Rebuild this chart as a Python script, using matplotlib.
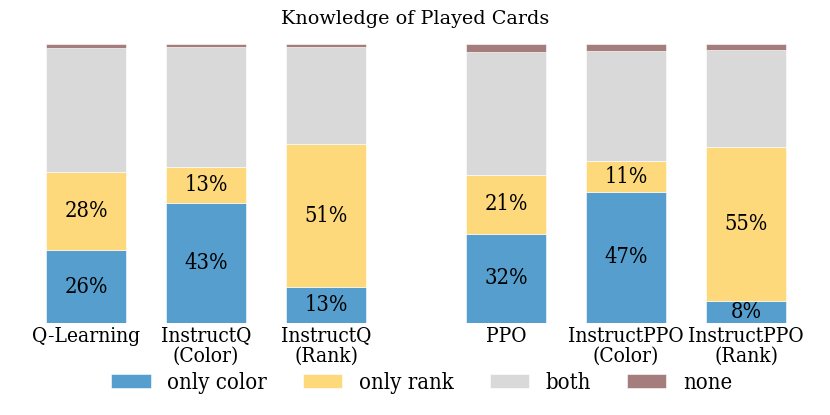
import matplotlib.pyplot as plt
import numpy as np

plt.rcParams['font.family'] = ['DejaVu Serif']

methods = ['Q-Learning', 'InstructQ\n(Color)', 'InstructQ\n(Rank)',
           'PPO', 'InstructPPO\n(Color)', 'InstructPPO\n(Rank)']
only_color = np.array([0.26, 0.43, 0.13, 0.32, 0.47, 0.08])
only_rank = np.array([0.28, 0.13, 0.51, 0.21, 0.11, 0.55])
none = np.array([0.013, 0.012, 0.012, 0.028, 0.025, 0.02])
both = 1 - only_color - only_rank - none

colors = ['#559ecd', '#fdd97c', '#d9d9d9', '#a57d7d']
xpos = np.array([0, 1, 2, 3.5, 4.5, 5.5])
width = 0.66

fig = plt.figure(figsize=(8.3, 4.15), dpi=100)
ax = fig.add_axes([26/830, 92/415, 780/830, 279/415])

bottom = np.zeros(len(methods))
for vals, col, lab in zip([only_color, only_rank, both, none], colors,
                          ['only color', 'only rank', 'both', 'none']):
    bars = ax.bar(xpos, vals, width, bottom=bottom, color=col, label=lab,
                  edgecolor='white', linewidth=0.4)
    if lab in ('only color', 'only rank'):
        for x, v, b in zip(xpos, vals, bottom):
            ax.text(x, b + v / 2, f'{round(v*100)}%', ha='center', va='center',
                    fontsize=15.7, fontstretch='condensed')
    bottom += vals

ax.set_xlim(-0.5, 6.0)
ax.set_ylim(0, 1)
ax.set_xticks(xpos)
ax.set_xticklabels(methods, fontsize=15, fontstretch='condensed', linespacing=1.05)
ax.tick_params(axis='x', length=0, pad=3)
ax.set_yticks([])
for s in ax.spines.values():
    s.set_visible(False)

fig.suptitle('Knowledge of Played Cards', y=0.975, fontsize=13.8)
fig.legend(loc='center', bbox_to_anchor=(0.508, 0.078), ncol=4, frameon=False,
           handlelength=1.8, handleheight=0.65, handletextpad=0.75,
           columnspacing=1.64, prop={'size': 15.8, 'stretch': 'condensed'})

plt.savefig('out.png', dpi=100)
